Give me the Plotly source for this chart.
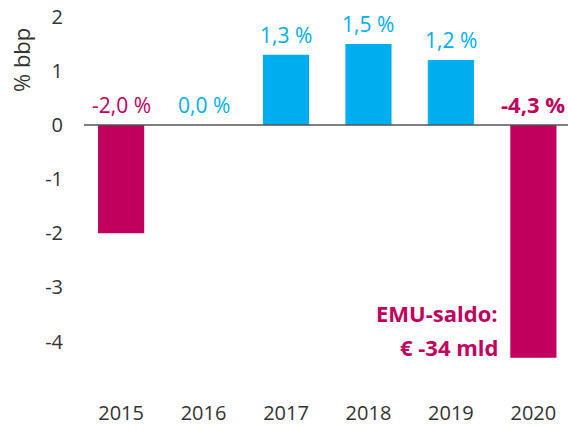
import plotly.graph_objects as go

years = ["2015", "2016", "2017", "2018", "2019", "2020"]
values = [-2.0, 0.0, 1.3, 1.5, 1.2, -4.3]
labels = ["-2,0 %", "0,0 %", "1,3 %", "1,5 %", "1,2 %", "-4,3 %"]
bold_label = [False, False, False, False, False, True]
yticks = [2, 1, 0, -1, -2, -3, -4]
note_lines = ["EMU-saldo:", "€ -34 mld"]

MAGENTA = "#C0005C"
CYAN = "#00AEEF"
TEXT = "#333333"
FONT = "Open Sans"

bar_colors = [MAGENTA if v < 0 else CYAN for v in values]
label_colors = [MAGENTA if v < 0 else CYAN for v in values]
xpos = list(range(len(years)))

fig = go.Figure(go.Bar(x=xpos, y=values, marker_color=bar_colors, marker_line_width=0,
                       width=0.56, hoverinfo="skip"))

for i, (v, lab) in enumerate(zip(values, labels)):
    fig.add_annotation(
        x=xpos[i], y=max(v, 0), xref="x", yref="y",
        text=f"<b>{lab}</b>" if bold_label[i] else lab,
        showarrow=False, yanchor="bottom", yshift=4,
        font=dict(family=FONT, size=22 if bold_label[i] else 21, color=label_colors[i]),
    )

for j, line in enumerate(note_lines):
    fig.add_annotation(
        x=0.86, xref="paper", y=1 - (313 + 34 * j - 6) / 368, yref="paper",
        text=f"<b>{line}</b>",
        showarrow=False, xanchor="right", yanchor="middle", align="right",
        font=dict(family=FONT, size=22, color=MAGENTA),
    )

fig.add_annotation(
    x=(21 - 84) / 484, xref="paper", xanchor="center",
    y=1 - (60 - 6) / 368, yref="paper", yanchor="middle",
    text="% bbp", textangle=-90, showarrow=False,
    font=dict(family=FONT, size=22, color=TEXT),
)

fig.add_shape(type="line", xref="paper", yref="y", x0=0, x1=1, y0=0, y1=0,
              line=dict(color="#555555", width=1.5))

fig.update_layout(
    width=568, height=428,
    margin=dict(l=84, r=0, t=6, b=54),
    paper_bgcolor="white", plot_bgcolor="white",
    showlegend=False,
    font=dict(family=FONT, color=TEXT),
)
fig.update_xaxes(
    range=[-0.45, 5.42], tickvals=xpos, ticktext=years,
    showgrid=False, zeroline=False, showline=False,
    ticks="", tickfont=dict(family=FONT, size=20, color=TEXT), ticklabelstandoff=25,
)
fig.update_yaxes(
    range=[-4.6, 2.2], tickvals=yticks, ticktext=[str(t) for t in yticks],
    showgrid=False, zeroline=False, showline=False, ticks="",
    tickfont=dict(family=FONT, size=20, color=TEXT), ticklabelstandoff=20,
)

fig.write_html("out.html", config={"displayModeBar": False},
               post_script="document.body.style.margin='0';")
